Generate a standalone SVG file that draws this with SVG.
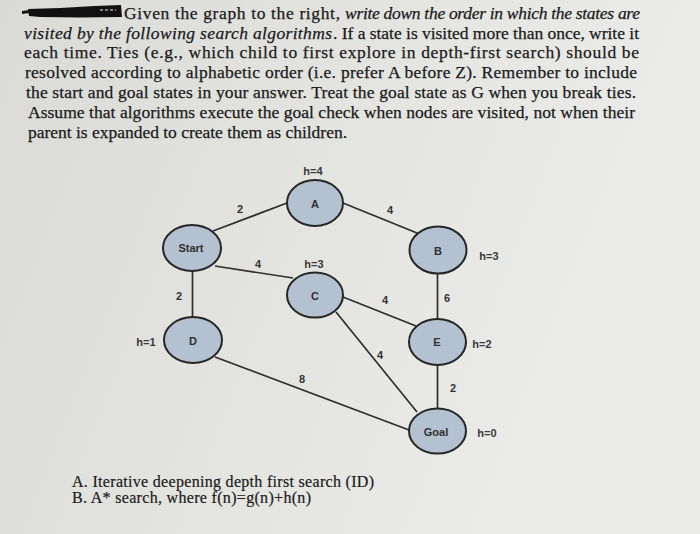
<svg xmlns="http://www.w3.org/2000/svg" width="700" height="534" viewBox="0 0 700 534">
  <defs>
    <linearGradient id="bg" x1="0" y1="0" x2="1" y2="0.3">
      <stop offset="0" stop-color="#dadad7"/>
      <stop offset="0.6" stop-color="#e5e5e2"/>
      <stop offset="1" stop-color="#ececea"/>
    </linearGradient>
  </defs>
  <style>
    .body { font-family: "Liberation Serif", "Times New Roman", serif; font-size: 17.5px; fill: #1a1a1a; stroke: #1a1a1a; stroke-width: 0.25; }
    .it { font-style: italic; }
    .q { font-family: "Liberation Serif", "Times New Roman", serif; font-size: 16px; fill: #1a1a1a; stroke: #1a1a1a; stroke-width: 0.2; }
    .node ellipse { fill: #b3c1d0; stroke: #262626; stroke-width: 2; }
    .lbl { font-family: "Liberation Sans", Arial, sans-serif; font-size: 11px; font-weight: bold; fill: #303030; text-anchor: middle; dominant-baseline: central; }
    .edge { stroke: #2e2e2e; stroke-width: 1.7; fill: none; }
    .w { font-family: "Liberation Sans", Arial, sans-serif; font-size: 11px; font-weight: bold; fill: #333; text-anchor: middle; dominant-baseline: central; }
    .h { font-family: "Liberation Sans", Arial, sans-serif; font-size: 11px; font-weight: bold; fill: #3a3a3a; text-anchor: middle; dominant-baseline: central; }
  </style>
  <rect x="0" y="0" width="700" height="534" fill="url(#bg)"/>

  <!-- redaction mark -->
  <path d="M22,11 L29,10 L29,13 L22,14 Z M28,9 L60,8 L95,6 L121,5 L122,17 L80,17.5 L40,17 L29,16 Z" fill="#111"/>
  <line x1="100" y1="10" x2="116" y2="10" stroke="#a5a5a5" stroke-width="1.5" stroke-dasharray="3,2"/>

  <!-- heading text -->
  <text class="body" x="124" y="19" textLength="216" lengthAdjust="spacing">Given the graph to the right,</text>
  <text class="body it" x="345" y="19" textLength="295" lengthAdjust="spacing">write down the order in which the states are</text>
  <text class="body it" x="24" y="38.5" textLength="308" lengthAdjust="spacing">visited by the following search algorithms</text>
  <text class="body" x="333" y="38.5" textLength="306" lengthAdjust="spacing">. If a state is visited more than once, write it</text>
  <text class="body" x="24" y="58" textLength="615" lengthAdjust="spacing">each time. Ties (e.g., which child to first explore in depth-first search) should be</text>
  <text class="body" x="25" y="78" textLength="612" lengthAdjust="spacing">resolved according to alphabetic order (i.e. prefer A before Z). Remember to include</text>
  <text class="body" x="26" y="98" textLength="610" lengthAdjust="spacing">the start and goal states in your answer. Treat the goal state as G when you break ties.</text>
  <text class="body" x="28" y="118" textLength="607" lengthAdjust="spacing">Assume that algorithms execute the goal check when nodes are visited, not when their</text>
  <text class="body" x="28" y="138" textLength="319" lengthAdjust="spacing">parent is expanded to create them as children.</text>

  <!-- connectors -->
  <g id="connectors">
    <line class="edge" x1="213" y1="231" x2="287" y2="203"/>
    <line class="edge" x1="215" y1="266" x2="293" y2="278"/>
    <line class="edge" x1="192.5" y1="271" x2="192.5" y2="318"/>
    <line class="edge" x1="343" y1="203" x2="417" y2="233"/>
    <line class="edge" x1="343" y1="297" x2="416" y2="326"/>
    <line class="edge" x1="336" y1="312" x2="417" y2="412"/>
    <line class="edge" x1="215" y1="357" x2="409" y2="430"/>
    <line class="edge" x1="437.5" y1="273" x2="437.5" y2="320"/>
    <line class="edge" x1="437.5" y1="365" x2="437.5" y2="408"/>
    <text class="w" x="240" y="209">2</text>
    <text class="w" x="390" y="210">4</text>
    <text class="w" x="258" y="264">4</text>
    <text class="w" x="179" y="296">2</text>
    <text class="w" x="385" y="300">4</text>
    <text class="w" x="380" y="355">4</text>
    <text class="w" x="302" y="379">8</text>
    <text class="w" x="447" y="298">6</text>
    <text class="w" x="453" y="388">2</text>
  </g>

  <!-- nodes -->
  <g id="node-start" class="node">
    <ellipse cx="192" cy="248" rx="29" ry="23"/>
    <text class="lbl" x="191" y="248">Start</text>
  </g>
  <g id="node-a" class="node">
    <ellipse cx="315" cy="203" rx="28" ry="23"/>
    <text class="lbl" x="315" y="204">A</text>
    <text class="h" x="313" y="171">h=4</text>
  </g>
  <g id="node-c" class="node">
    <ellipse cx="315" cy="295" rx="28" ry="22.5"/>
    <text class="lbl" x="315" y="296">C</text>
    <text class="h" x="314" y="264">h=3</text>
  </g>
  <g id="node-d" class="node">
    <ellipse cx="193" cy="340" rx="29" ry="23"/>
    <text class="lbl" x="193" y="341">D</text>
    <text class="h" x="146" y="342">h=1</text>
  </g>
  <g id="node-b" class="node">
    <ellipse cx="438" cy="250" rx="28.5" ry="23.5"/>
    <text class="lbl" x="438" y="251">B</text>
    <text class="h" x="489" y="256">h=3</text>
  </g>
  <g id="node-e" class="node">
    <ellipse cx="437.5" cy="342" rx="28.5" ry="23"/>
    <text class="lbl" x="437" y="342">E</text>
    <text class="h" x="482" y="344">h=2</text>
  </g>
  <g id="node-goal" class="node">
    <ellipse cx="437.5" cy="431" rx="28.5" ry="22.5"/>
    <text class="lbl" x="436" y="432">Goal</text>
    <text class="h" x="487" y="433">h=0</text>
  </g>

  <!-- questions -->
  <text class="q" x="72" y="487" textLength="302" lengthAdjust="spacing">A. Iterative deepening depth first search (ID)</text>
  <text class="q" x="72" y="503" textLength="239" lengthAdjust="spacing">B. A* search, where f(n)=g(n)+h(n)</text>
</svg>
